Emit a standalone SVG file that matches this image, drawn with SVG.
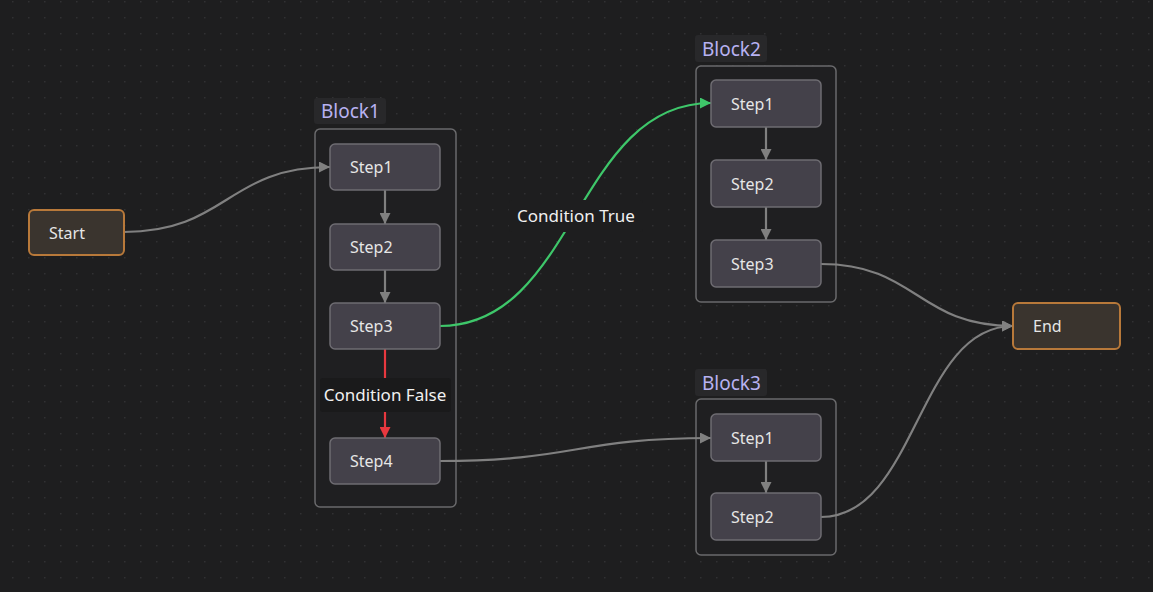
<svg xmlns="http://www.w3.org/2000/svg" width="1153" height="592" viewBox="0 0 1153 592">
<defs>
<pattern id="dots" x="12" y="1" width="16" height="16" patternUnits="userSpaceOnUse">
<circle cx="0.8" cy="0.8" r="0.8" fill="#353537"/>
</pattern>
<marker id="arrGrey" viewBox="0 0 10 10" refX="10" refY="5" markerWidth="11" markerHeight="11" markerUnits="userSpaceOnUse" orient="auto">
<path d="M0,0 L10,5 L0,10 z" fill="#808080"/>
</marker>
<marker id="arrGreen" viewBox="0 0 10 10" refX="10" refY="5" markerWidth="11" markerHeight="11" markerUnits="userSpaceOnUse" orient="auto">
<path d="M0,0 L10,5 L0,10 z" fill="#3ec76a"/>
</marker>
<marker id="arrRed" viewBox="0 0 10 10" refX="10" refY="5" markerWidth="11" markerHeight="11" markerUnits="userSpaceOnUse" orient="auto">
<path d="M0,0 L10,5 L0,10 z" fill="#e8383f"/>
</marker>
<style>
text{font-family:"Segoe UI","Noto Sans","Open Sans",sans-serif;}
.grp{fill:#1f1f21;stroke:#6a6a6c;stroke-width:1.5;}
.glbl{fill:#28282a;}
.gtxt{fill:#b8b2f2;font-size:19px;}
.step{fill:#44414a;stroke:#6e6c72;stroke-width:1.5;}
.term{fill:#3a342e;stroke:#b8793a;stroke-width:2;}
.ntxt{fill:#e6e6e6;font-size:16px;}
.edge{fill:none;stroke:#808080;stroke-width:2.2;}
.ltxt{fill:#f0f0f0;font-size:17px;}
</style>
</defs>
<rect width="1153" height="592" fill="#1e1e1f"/>
<rect width="1153" height="592" fill="url(#dots)"/>

<g id="block1">
<rect class="grp" x="315" y="129" width="141" height="378" rx="5"/>
<rect class="glbl" x="314" y="98" width="72" height="26" rx="3"/>
<text class="gtxt" x="321" y="118">Block1</text>
</g>
<g id="block2">
<rect class="grp" x="696" y="66" width="140" height="236" rx="5"/>
<rect class="glbl" x="695" y="35" width="72" height="27" rx="3"/>
<text class="gtxt" x="702" y="56">Block2</text>
</g>
<g id="block3">
<rect class="grp" x="696" y="399" width="140" height="156" rx="5"/>
<rect class="glbl" x="695" y="369" width="72" height="27" rx="3"/>
<text class="gtxt" x="702" y="390">Block3</text>
</g>

<g id="connectors">
<path class="edge" d="M124,232 C227,232 227,167 330,167" marker-end="url(#arrGrey)"/>
<path class="edge" d="M385,190 L385,224" marker-end="url(#arrGrey)"/>
<path class="edge" d="M385,270 L385,303" marker-end="url(#arrGrey)"/>
<path d="M440,326 C575.5,326 575.5,103 711,103" fill="none" stroke="#3ec76a" stroke-width="2.2" marker-end="url(#arrGreen)"/>
<path d="M385,349 L385,438" fill="none" stroke="#e8383f" stroke-width="2.2" marker-end="url(#arrRed)"/>
<path class="edge" d="M440,461 C575.5,461 575.5,438 711,438" marker-end="url(#arrGrey)"/>
<path class="edge" d="M766,127 L766,160" marker-end="url(#arrGrey)"/>
<path class="edge" d="M766,207 L766,240" marker-end="url(#arrGrey)"/>
<path class="edge" d="M766,461 L766,493" marker-end="url(#arrGrey)"/>
<path class="edge" d="M821,264 C917,264 917,326 1013,326" marker-end="url(#arrGrey)"/>
<path class="edge" d="M821,517 C917,517 917,326 1013,326" marker-end="url(#arrGrey)"/>
<g id="label-true">
<rect x="509" y="200" width="134" height="32" rx="3" fill="#1e1e1f"/>
<text class="ltxt" x="576" y="222" text-anchor="middle">Condition True</text>
</g>
<g id="label-false">
<rect x="320" y="378" width="131" height="34" rx="3" fill="#1a1a1b"/>
<text class="ltxt" x="385" y="401" text-anchor="middle">Condition False</text>
</g>
</g>

<g id="start">
<rect class="term" x="29" y="210" width="95" height="45" rx="5"/>
<text class="ntxt" x="49" y="239">Start</text>
</g>
<g id="b1-step1">
<rect class="step" x="330" y="144" width="110" height="46" rx="5"/>
<text class="ntxt" x="350" y="173">Step1</text>
</g>
<g id="b1-step2">
<rect class="step" x="330" y="224" width="110" height="46" rx="5"/>
<text class="ntxt" x="350" y="253">Step2</text>
</g>
<g id="b1-step3">
<rect class="step" x="330" y="303" width="110" height="46" rx="5"/>
<text class="ntxt" x="350" y="332">Step3</text>
</g>
<g id="b1-step4">
<rect class="step" x="330" y="438" width="110" height="46" rx="5"/>
<text class="ntxt" x="350" y="467">Step4</text>
</g>
<g id="b2-step1">
<rect class="step" x="711" y="80" width="110" height="47" rx="5"/>
<text class="ntxt" x="731" y="110">Step1</text>
</g>
<g id="b2-step2">
<rect class="step" x="711" y="160" width="110" height="47" rx="5"/>
<text class="ntxt" x="731" y="190">Step2</text>
</g>
<g id="b2-step3">
<rect class="step" x="711" y="240" width="110" height="47" rx="5"/>
<text class="ntxt" x="731" y="270">Step3</text>
</g>
<g id="b3-step1">
<rect class="step" x="711" y="414" width="110" height="47" rx="5"/>
<text class="ntxt" x="731" y="444">Step1</text>
</g>
<g id="b3-step2">
<rect class="step" x="711" y="493" width="110" height="47" rx="5"/>
<text class="ntxt" x="731" y="523">Step2</text>
</g>
<g id="end">
<rect class="term" x="1013" y="303" width="107" height="46" rx="5"/>
<text class="ntxt" x="1033" y="332">End</text>
</g>
</svg>
